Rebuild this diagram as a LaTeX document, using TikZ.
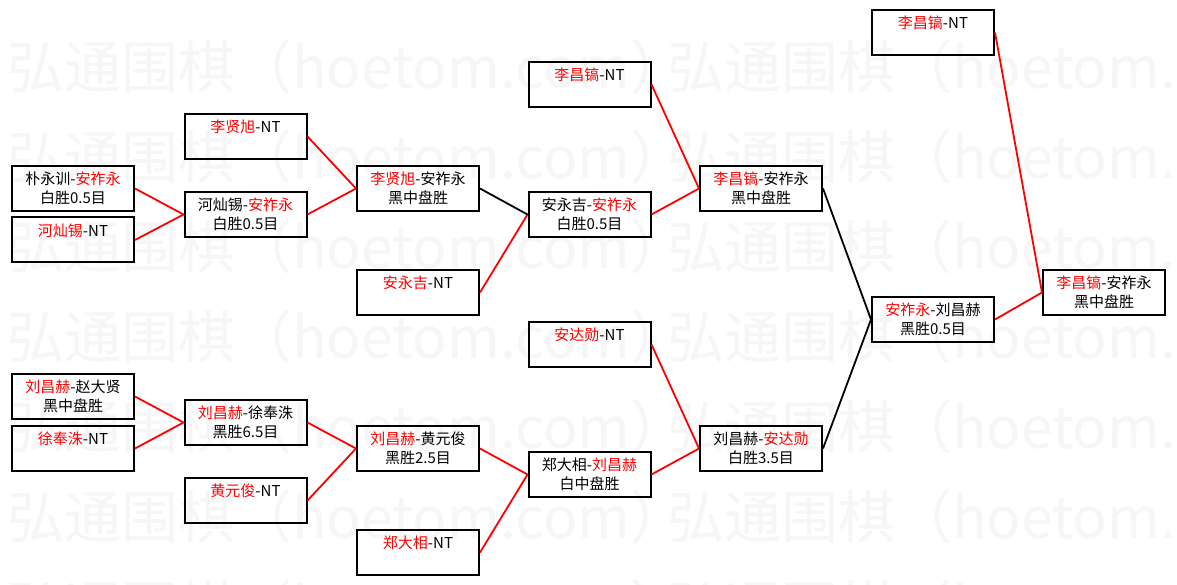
\documentclass[tikz,border=0pt]{standalone}
\usepackage{fontspec}
\setmainfont{Noto Sans CJK SC}
\newcommand\victor[1]{\textcolor{red}{#1}}
\begin{document}
\begin{tikzpicture}[x=1pt, y=-1pt,
  match/.style={draw, line width=2pt, minimum width=122pt, minimum height=45pt,
    inner sep=0pt, align=center, font=\fontsize{15}{19}\selectfont},
  won/.style={red, line width=1.8pt},
  lost/.style={black, line width=1.8pt},
  wmark/.style={anchor=west, inner sep=0pt, text=black!3.5,
    font=\fontsize{57}{60}\selectfont}]

  \fill[white] (0,0) rectangle (1177,585);
  \useasboundingbox (0,0) rectangle (1177,585);

  % watermark
  \begin{scope}
    \clip (0,0) rectangle (1177,585);
    \foreach \y in {67,157,...,607}
      \foreach \x in {7,667}
        \node[wmark] at (\x,\y) {弘通围棋（hoetom.com）};
  \end{scope}

  % round 1
  \node[match] (a1) at (73,188.5) {朴永训-\victor{安祚永}\\白胜0.5目};
  \node[match] (a2) at (73,240) {\victor{河灿锡}-NT\\\phantom{目}};
  \node[match] (a3) at (73,396.5) {\victor{刘昌赫}-赵大贤\\黑中盘胜};
  \node[match] (a4) at (73,448.5) {\victor{徐奉洙}-NT\\\phantom{目}};

  % round 2
  \node[match] (b1) at (245.5,136.5) {\victor{李贤旭}-NT\\\phantom{目}};
  \node[match] (b2) at (245.5,214.5) {河灿锡-\victor{安祚永}\\白胜0.5目};
  \node[match] (b3) at (245.5,422.5) {\victor{刘昌赫}-徐奉洙\\黑胜6.5目};
  \node[match] (b4) at (245.5,500.5) {\victor{黄元俊}-NT\\\phantom{目}};

  % round 3
  \node[match] (c1) at (418,188.5) {\victor{李贤旭}-安祚永\\黑中盘胜};
  \node[match] (c2) at (418,292.5) {\victor{安永吉}-NT\\\phantom{目}};
  \node[match] (c3) at (418,448.5) {\victor{刘昌赫}-黄元俊\\黑胜2.5目};
  \node[match] (c4) at (418,552.5) {\victor{郑大相}-NT\\\phantom{目}};

  % round 4
  \node[match] (d1) at (589.5,84.5) {\victor{李昌镐}-NT\\\phantom{目}};
  \node[match] (d2) at (589.5,214.5) {安永吉-\victor{安祚永}\\白胜0.5目};
  \node[match] (d3) at (589.5,344.5) {\victor{安达勋}-NT\\\phantom{目}};
  \node[match] (d4) at (589.5,474.5) {郑大相-\victor{刘昌赫}\\白中盘胜};

  % round 5
  \node[match] (e1) at (761,188.5) {\victor{李昌镐}-安祚永\\黑中盘胜};
  \node[match] (e2) at (761,448.5) {刘昌赫-\victor{安达勋}\\白胜3.5目};

  % round 6 and final
  \node[match] (f1) at (933,32.5) {\victor{李昌镐}-NT\\\phantom{目}};
  \node[match] (f2) at (933,319.5) {\victor{安祚永}-刘昌赫\\黑胜0.5目};
  \node[match] (g) at (1104,292.5) {\victor{李昌镐}-安祚永\\黑中盘胜};

  % connectors
  \foreach \s/\t in {a1/b2, a2/b2, a3/b3, a4/b3, b1/c1, b2/c1, b3/c3, b4/c3,
      c2/d2, c3/d4, c4/d4, d1/e1, d2/e1, d3/e2, d4/e2, f1/g, f2/g}
    \draw[won] (\s.east) -- (\t.west);
  \foreach \s/\t in {c1/d2, e1/f2, e2/f2}
    \draw[lost] (\s.east) -- (\t.west);
\end{tikzpicture}
\end{document}
